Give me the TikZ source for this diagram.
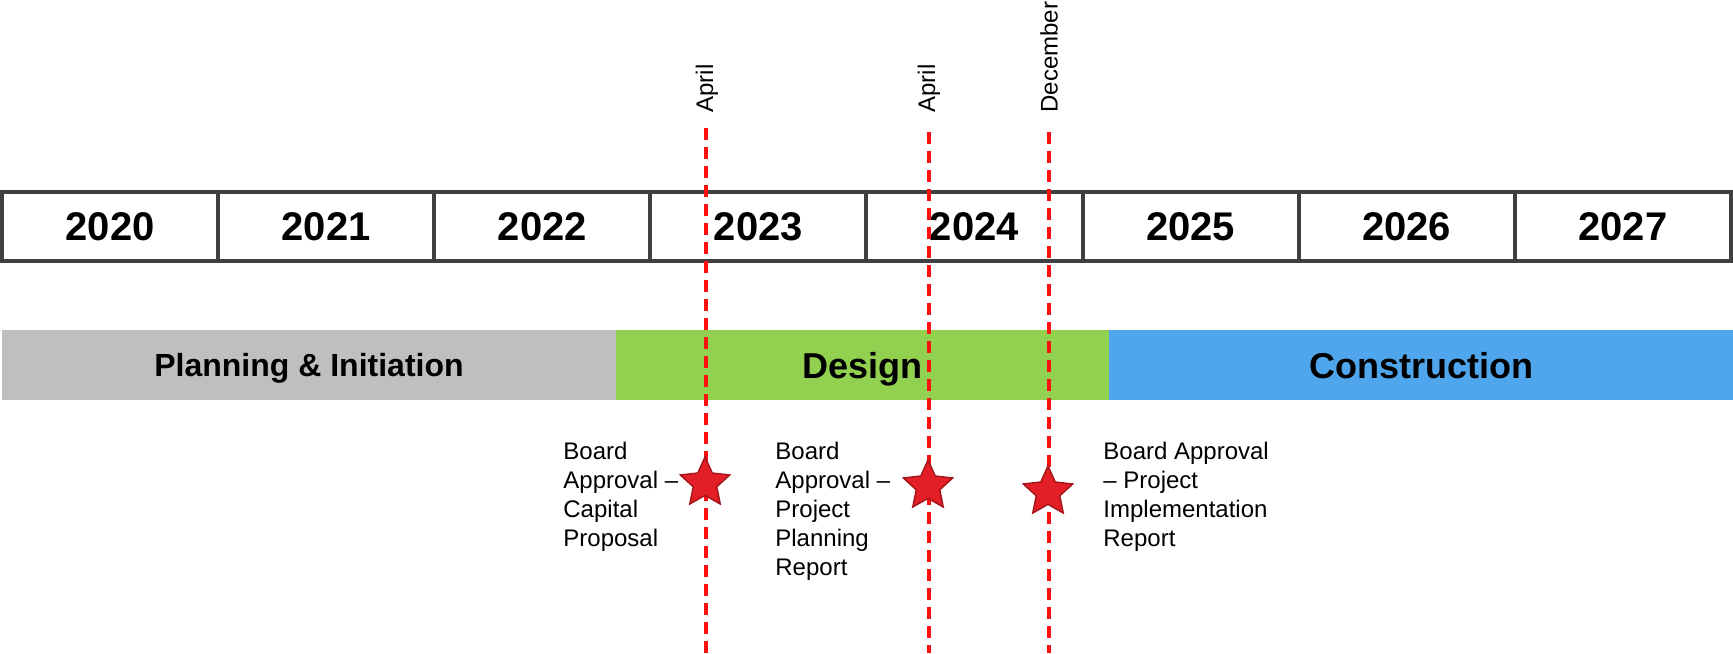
\documentclass[tikz,border=0pt]{standalone}
\usepackage{fontspec}
\setmainfont{Liberation Sans}
\usetikzlibrary{shapes.geometric}
\definecolor{boxline}{HTML}{404040}
\definecolor{phgray}{HTML}{BFBFBF}
\definecolor{phgreen}{HTML}{92D050}
\definecolor{phblue}{HTML}{4FA6EC}
\definecolor{starfill}{HTML}{E31E26}
\definecolor{staredge}{HTML}{A3141B}
\definecolor{dashred}{HTML}{FF1010}
\tikzset{
  yearbox/.style={draw=boxline, line width=2pt, fill=white, minimum width=108.05pt, minimum height=34.5pt, inner sep=0pt, text height=14.4pt, text depth=0pt, font=\fontsize{20}{24}\selectfont\bfseries},
  phase/.style={inner sep=0pt, minimum height=35pt, text depth=0pt, font=\bfseries},
  monthlbl/.style={rotate=90, anchor=west, inner sep=0pt, font=\fontsize{12}{14}\selectfont},
  msline/.style={dashred, line width=1.6pt, dash pattern=on 6pt off 3.5pt},
  mstar/.style={star, star points=5, star point ratio=2.1, minimum size=26pt, inner sep=0pt, fill=starfill, draw=staredge, line width=0.7pt},
  mstext/.style={anchor=north west, align=left, inner sep=0pt, font=\fontsize{12}{14.5}\selectfont}
}
\begin{document}
\begin{tikzpicture}[x=0.5pt,y=-0.5pt]
\useasboundingbox (0,0) rectangle (1733,653);
% year boxes
\foreach \i/\yr in {0/2020,1/2021,2/2022,3/2023,4/2024,5/2025,6/2026,7/2027}{
  \node[yearbox] (y\yr) at ({2+216.1*(\i+0.5)},226.5) {\yr};
}
% phases
\node[phase, fill=phgray, minimum width=307pt, text height=11.5pt, font=\fontsize{16}{19}\selectfont\bfseries] (plan) at (309,365) {Planning \& Initiation};
\node[phase, fill=phgreen, minimum width=246.5pt, text height=13pt, font=\fontsize{18}{21}\selectfont\bfseries] (design) at (862.5,365) {Design};
\node[phase, fill=phblue, minimum width=312pt, text height=13pt, font=\fontsize{18}{21}\selectfont\bfseries] (constr) at (1421,365) {Construction};
% milestone lines
\coordinate (d1t) at (706,128); \coordinate (d1b) at (706,653);
\coordinate (d2t) at (929,132); \coordinate (d2b) at (929,653);
\coordinate (d3t) at (1049,132); \coordinate (d3b) at (1049,653);
\draw[msline] (d1t) -- (d1b);
\draw[msline] (d2t) -- (d2b);
\draw[msline] (d3t) -- (d3b);
% month labels
\node[monthlbl] (m1) at (707,113) {April};
\node[monthlbl] (m2) at (929,113) {April};
\node[monthlbl] (m3) at (1049,113) {December};
% stars
\node[mstar] (s1) at (705,483) {};
\node[mstar] (s2) at (928,486) {};
\node[mstar] (s3) at (1048,492) {};
% milestone texts
\node[mstext] (t1) at (563,442) {Board\\Approval –\\Capital\\Proposal};
\node[mstext] (t2) at (775,442) {Board\\Approval –\\Project\\Planning\\Report};
\node[mstext] (t3) at (1103,442) {Board Approval\\– Project\\Implementation\\Report};
\end{tikzpicture}
\end{document}
